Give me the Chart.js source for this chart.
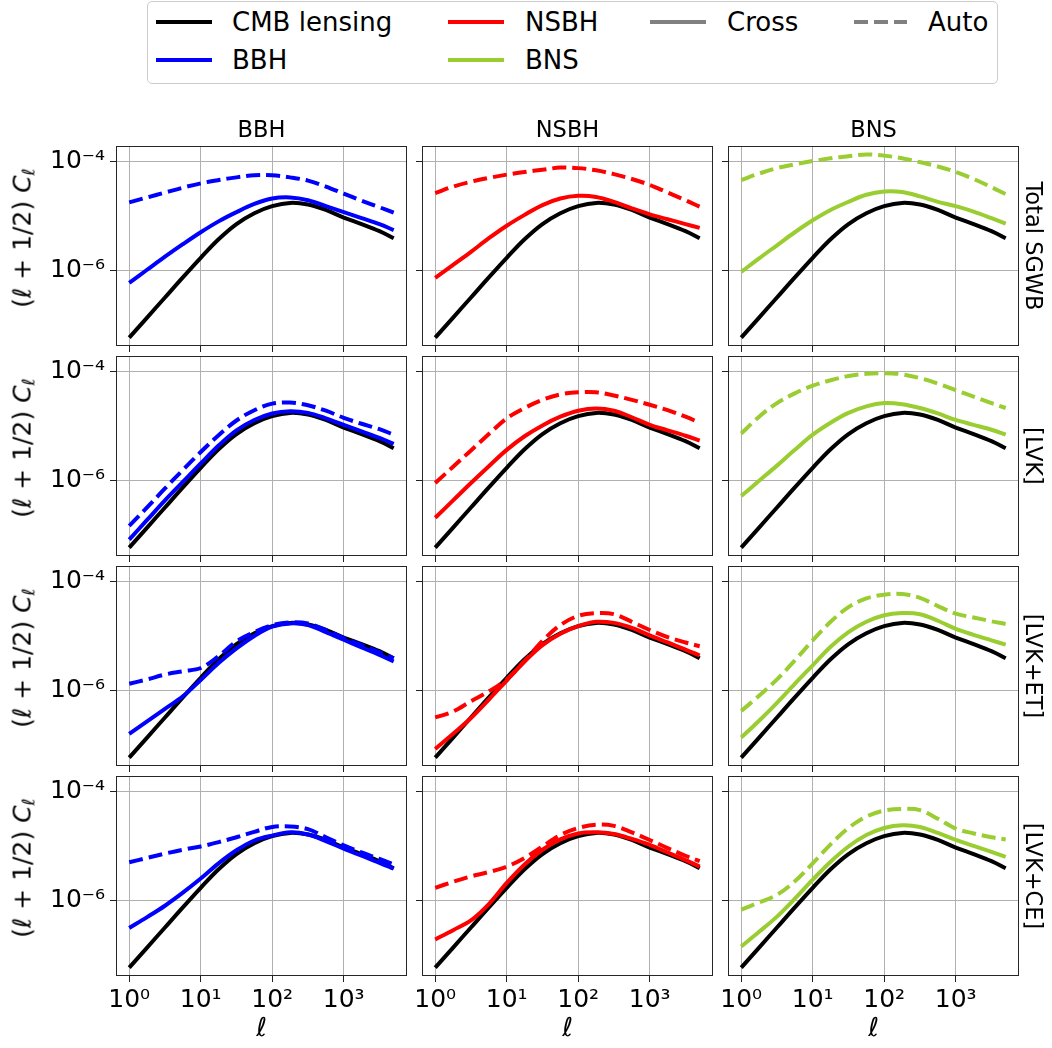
<!DOCTYPE html>
<html lang="en">
<head>
<meta charset="UTF-8">
<title>CMB lensing x SGWB spectra</title>
<script src="https://cdn.jsdelivr.net/npm/chart.js"></script>
<style>
  body { margin: 0; background: #fff; }
  #fig { position: relative; width: 1052px; height: 1048px; overflow: hidden;
         font-family: "DejaVu Sans", sans-serif; color: #000; }
  #fig canvas { position: absolute; }
  .txt { position: absolute; white-space: nowrap; line-height: 1; }
  .coltitle { font-size: 22.5px; transform: translate(-50%, -50%); }
  .rowlabel { font-size: 22.5px; writing-mode: vertical-rl; transform: translate(-50%, -50%); }
  .ylabel { font-size: 25px; transform: translate(-50%, -50%) rotate(-90deg); }
  .ylabel i, .xlabel { font-style: italic; }
  .ylabel sub { font-size: 70%; vertical-align: -0.25em; }
  .xlabel { font-size: 26px; transform: translate(-50%, -50%); }
  #legend { position: absolute; left: 147px; top: 1px; width: 851px; height: 83px;
            border: 1px solid #cccccc; border-radius: 5px; box-sizing: border-box; }
  .legtext { position: absolute; font-size: 26px; line-height: 1; transform: translateY(-50%); white-space: nowrap; }
</style>
</head>
<body>
<div id="fig">
  <div id="legend"></div>
  <svg width="1052" height="90" style="position:absolute;left:0;top:0">
    <line x1="156" y1="22" x2="212" y2="22" stroke="#000000" stroke-width="4"/>
    <line x1="156" y1="60" x2="212" y2="60" stroke="#0000ff" stroke-width="4"/>
    <line x1="448" y1="22" x2="504" y2="22" stroke="#ff0000" stroke-width="4"/>
    <line x1="448" y1="60" x2="504" y2="60" stroke="#9acd32" stroke-width="4"/>
    <line x1="650" y1="22" x2="706" y2="22" stroke="#808080" stroke-width="4"/>
    <line x1="854" y1="22" x2="907" y2="22" stroke="#808080" stroke-width="4" stroke-dasharray="14 6"/>
  </svg>
  <div class="legtext" style="left:232px;top:22px">CMB lensing</div>
  <div class="legtext" style="left:232px;top:60px">BBH</div>
  <div class="legtext" style="left:525px;top:22px">NSBH</div>
  <div class="legtext" style="left:525px;top:60px">BNS</div>
  <div class="legtext" style="left:727px;top:22px">Cross</div>
  <div class="legtext" style="left:928px;top:22px">Auto</div>
</div>

<script>
// multipoles (log-spaced, quarter decades)
const ell = [1, 1.778, 3.162, 5.623, 10, 17.78, 31.62, 56.23, 100, 177.8, 316.2, 562.3, 1000, 1778, 3162, 5000];

// curves below are log10[(l+1/2) C_l]
const cmbLog = [-7.24, -6.87, -6.50, -6.13, -5.77, -5.43, -5.15, -4.95, -4.82, -4.76, -4.79, -4.89, -5.03, -5.15, -5.28, -5.41];

// Total SGWB
const bbhCrossTotal = [-6.23, -5.99, -5.75, -5.52, -5.30, -5.10, -4.93, -4.78, -4.68, -4.66, -4.71, -4.82, -4.93, -5.04, -5.15, -5.26];
const bbhAutoTotal = [-4.75, -4.66, -4.57, -4.48, -4.40, -4.34, -4.29, -4.25, -4.25, -4.29, -4.35, -4.46, -4.59, -4.72, -4.84, -4.94];
const nsbhCrossTotal = [-6.14, -5.90, -5.66, -5.41, -5.18, -4.98, -4.80, -4.68, -4.63, -4.65, -4.74, -4.86, -4.97, -5.06, -5.15, -5.22];
const nsbhAutoTotal = [-4.58, -4.46, -4.37, -4.30, -4.24, -4.19, -4.15, -4.11, -4.12, -4.16, -4.23, -4.32, -4.43, -4.57, -4.71, -4.83];
const bnsCrossTotal = [-6.03, -5.78, -5.54, -5.30, -5.08, -4.89, -4.74, -4.61, -4.55, -4.56, -4.64, -4.74, -4.82, -4.92, -5.04, -5.14];
const bnsAutoTotal = [-4.34, -4.22, -4.12, -4.05, -3.99, -3.94, -3.90, -3.87, -3.89, -3.94, -4.01, -4.09, -4.19, -4.32, -4.47, -4.60];

// [LVK]
const bbhCrossLvk = [-7.09, -6.73, -6.37, -6.03, -5.69, -5.36, -5.08, -4.89, -4.77, -4.73, -4.76, -4.86, -4.98, -5.10, -5.22, -5.33];
const bbhAutoLvk = [-6.84, -6.50, -6.15, -5.81, -5.48, -5.17, -4.90, -4.71, -4.59, -4.57, -4.62, -4.72, -4.85, -4.96, -5.06, -5.16];
const nsbhCrossLvk = [-6.69, -6.37, -6.05, -5.74, -5.44, -5.19, -4.99, -4.83, -4.72, -4.68, -4.72, -4.84, -4.98, -5.08, -5.18, -5.27];
const nsbhAutoLvk = [-6.05, -5.75, -5.45, -5.15, -4.86, -4.67, -4.52, -4.42, -4.38, -4.38, -4.44, -4.52, -4.61, -4.71, -4.83, -4.94];
const bnsCrossLvk = [-6.29, -6.01, -5.73, -5.44, -5.16, -4.94, -4.76, -4.64, -4.58, -4.60, -4.67, -4.77, -4.89, -4.98, -5.07, -5.16];
const bnsAutoLvk = [-5.14, -4.83, -4.58, -4.40, -4.26, -4.16, -4.08, -4.04, -4.03, -4.05, -4.12, -4.22, -4.34, -4.46, -4.58, -4.67];

// [LVK+ET]
const bbhCrossEt = [-6.80, -6.57, -6.34, -6.11, -5.81, -5.50, -5.23, -5.00, -4.83, -4.77, -4.80, -4.93, -5.07, -5.21, -5.35, -5.47];
const bbhAutoEt = [-5.88, -5.80, -5.71, -5.65, -5.59, -5.37, -5.10, -4.93, -4.80, -4.75, -4.77, -4.89, -5.04, -5.17, -5.30, -5.41];
const nsbhCrossEt = [-7.08, -6.80, -6.51, -6.17, -5.82, -5.47, -5.17, -4.96, -4.82, -4.74, -4.76, -4.85, -4.99, -5.12, -5.25, -5.36];
const nsbhAutoEt = [-6.50, -6.39, -6.20, -6.02, -5.80, -5.46, -5.09, -4.80, -4.63, -4.58, -4.60, -4.74, -4.89, -5.02, -5.12, -5.19];
const bnsCrossEt = [-6.87, -6.56, -6.23, -5.88, -5.54, -5.20, -4.93, -4.74, -4.62, -4.58, -4.60, -4.72, -4.87, -4.98, -5.08, -5.16];
const bnsAutoEt = [-6.38, -6.10, -5.80, -5.45, -5.08, -4.74, -4.47, -4.31, -4.24, -4.23, -4.30, -4.45, -4.59, -4.66, -4.73, -4.78];

// [LVK+CE]
const bbhCrossCe = [-6.51, -6.31, -6.10, -5.86, -5.60, -5.32, -5.08, -4.90, -4.81, -4.75, -4.79, -4.91, -5.05, -5.18, -5.31, -5.42];
const bbhAutoCe = [-5.30, -5.22, -5.14, -5.07, -5.01, -4.93, -4.84, -4.74, -4.65, -4.64, -4.69, -4.84, -4.99, -5.12, -5.24, -5.34];
const nsbhCrossCe = [-6.72, -6.55, -6.37, -6.07, -5.68, -5.34, -5.07, -4.88, -4.77, -4.75, -4.78, -4.87, -4.98, -5.12, -5.26, -5.38];
const nsbhAutoCe = [-5.77, -5.66, -5.56, -5.48, -5.38, -5.22, -5.01, -4.80, -4.67, -4.61, -4.63, -4.75, -4.89, -5.04, -5.18, -5.28];
const bnsCrossCe = [-6.85, -6.58, -6.30, -5.97, -5.62, -5.29, -5.01, -4.80, -4.67, -4.62, -4.65, -4.76, -4.89, -5.00, -5.11, -5.20];
const bnsAutoCe = [-6.17, -6.04, -5.90, -5.65, -5.32, -4.97, -4.67, -4.46, -4.35, -4.32, -4.34, -4.50, -4.68, -4.77, -4.84, -4.88];

const sources = ['BBH', 'NSBH', 'BNS'];
const sourceColors = ['#0000ff', '#ff0000', '#9acd32'];
const rowLabels = ['Total SGWB', '[LVK]', '[LVK+ET]', '[LVK+CE]'];
const crossRows = [
  [bbhCrossTotal, nsbhCrossTotal, bnsCrossTotal],
  [bbhCrossLvk, nsbhCrossLvk, bnsCrossLvk],
  [bbhCrossEt, nsbhCrossEt, bnsCrossEt],
  [bbhCrossCe, nsbhCrossCe, bnsCrossCe]
];
const autoRows = [
  [bbhAutoTotal, nsbhAutoTotal, bnsAutoTotal],
  [bbhAutoLvk, nsbhAutoLvk, bnsAutoLvk],
  [bbhAutoEt, nsbhAutoEt, bnsAutoEt],
  [bbhAutoCe, nsbhAutoCe, bnsAutoCe]
];
const xTicks = [1, 10, 100, 1000];
const yTicks = [1e-6, 1e-4];

// layout of the grid (px)
const colLeft = [116, 422, 728];
const rowTop = [146, 356, 566, 776];
const PW = 291, PH = 200;
const M = { l: 95, t: 26, r: 8, b: 50 };

const SUP = { '-': '\u207b', '0': '\u2070', '1': '\u00b9', '2': '\u00b2', '3': '\u00b3', '4': '\u2074', '5': '\u2075', '6': '\u2076', '7': '\u2077', '8': '\u2078', '9': '\u2079' };
function powLabel(v) {
  const e = Math.round(Math.log10(v));
  return '10' + String(e).split('').map(c => SUP[c]).join('');
}

function points(logs) {
  return ell.map((l, i) => ({ x: l, y: Math.pow(10, logs[i]) }));
}

// full box around the plot area
const framePlugin = {
  id: 'frame',
  afterDraw(chart) {
    const { ctx, chartArea: a } = chart;
    ctx.save();
    ctx.strokeStyle = '#262626';
    ctx.lineWidth = 1;
    ctx.strokeRect(Math.round(a.left) + 0.5, Math.round(a.top) + 0.5,
                   Math.round(a.right - a.left) - 1, Math.round(a.bottom - a.top) - 1);
    ctx.restore();
  }
};

const fig = document.getElementById('fig');

function addText(cls, html, x, y) {
  const d = document.createElement('div');
  d.className = 'txt ' + cls;
  d.innerHTML = html;
  d.style.left = x + 'px';
  d.style.top = y + 'px';
  fig.appendChild(d);
}

function makePanel(row, col) {
  const canvas = document.createElement('canvas');
  canvas.width = M.l + PW + M.r;
  canvas.height = M.t + PH + M.b;
  canvas.style.left = (colLeft[col] - M.l) + 'px';
  canvas.style.top = (rowTop[row] - M.t) + 'px';
  fig.appendChild(canvas);

  const color = sourceColors[col];
  const line = { pointRadius: 0, borderWidth: 4, fill: false, tension: 0.35, borderJoinStyle: 'round' };

  new Chart(canvas, {
    type: 'line',
    data: {
      datasets: [
        Object.assign({ label: sources[col] + ' auto', data: points(autoRows[row][col]), borderColor: color, borderDash: [14, 6], order: 1 }, line),
        Object.assign({ label: sources[col] + ' cross', data: points(crossRows[row][col]), borderColor: color, order: 2 }, line),
        Object.assign({ label: 'CMB lensing', data: points(cmbLog), borderColor: '#000000', order: 3 }, line)
      ]
    },
    options: {
      responsive: false,
      animation: false,
      parsing: false,
      layout: { padding: { top: M.t, right: M.r, left: 0, bottom: 0 } },
      plugins: { legend: { display: false }, tooltip: { enabled: false } },
      scales: {
        x: {
          type: 'logarithmic',
          bounds: 'data',
          min: Math.pow(10, -0.185),
          max: Math.pow(10, 3.885),
          afterBuildTicks: s => { s.ticks = xTicks.map(v => ({ value: v })); },
          afterFit: s => { s.height = M.b; },
          grid: { color: '#b0b0b0', lineWidth: 1, tickColor: '#222', tickLength: 6 },
          border: { display: false },
          ticks: {
            display: row === 3,
            autoSkip: false, maxRotation: 0, padding: 3,
            color: '#000',
            font: { family: 'DejaVu Sans', size: 25 },
            callback: v => powLabel(v)
          }
        },
        y: {
          type: 'logarithmic',
          bounds: 'data',
          min: Math.pow(10, -7.393),
          max: Math.pow(10, -3.713),
          afterBuildTicks: s => { s.ticks = yTicks.map(v => ({ value: v })); },
          afterFit: s => { s.width = M.l; },
          grid: { color: '#b0b0b0', lineWidth: 1, tickColor: '#222', tickLength: 6 },
          border: { display: false },
          ticks: {
            display: col === 0,
            autoSkip: false, padding: 5,
            color: '#000',
            font: { family: 'DejaVu Sans', size: 25 },
            callback: v => powLabel(v)
          }
        }
      }
    },
    plugins: [framePlugin]
  });
}

for (let r = 0; r < 4; r++) {
  for (let c = 0; c < 3; c++) makePanel(r, c);
  addText('rowlabel', rowLabels[r], 1034, rowTop[r] + PH / 2);
  addText('ylabel', '(<i>\u2113</i> + 1/2) <i>C</i><sub><i>\u2113</i></sub>', 24, rowTop[r] + 92);
}
for (let c = 0; c < 3; c++) {
  addText('coltitle', sources[c], colLeft[c] + PW / 2, 129);
  addText('xlabel', '\u2113', colLeft[c] + PW / 2, 1027);
}
</script>
</body>
</html>
